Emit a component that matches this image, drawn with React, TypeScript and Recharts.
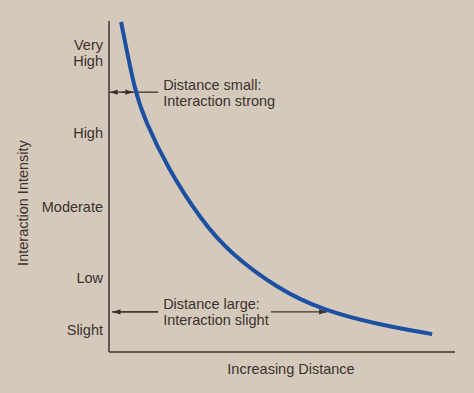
import React from 'react';
import { LineChart, Line, XAxis, YAxis, ReferenceLine } from 'recharts';

// Curve samples (distance, intensity)
const distance = [3.5, 7.5, 10.4, 16.8, 26.9, 35.0, 48.6, 61.8, 78.3, 93.4];
const intensity = [99.7, 78.5, 70.1, 55.8, 39.4, 29.9, 19.2, 12.6, 8.2, 5.4];

// Y tick labels
const tickValues = [90.3, 66.2, 43.8, 22.4, 6.5];
const tickLabels = [['Very', 'High'], ['High'], ['Moderate'], ['Low'], ['Slight']];

// Annotations
const topArrowY = 78.5;
const topArrowX = [0.2, 7.0, 14.2];
const topText = ['Distance small:', 'Interaction strong'];
const bottomArrowY = 12.1;
const bottomArrowX = [1.0, 14.2, 46.8, 63.0];
const bottomText = ['Distance large:', 'Interaction slight'];

const data = distance.map((d, i) => ({ d, v: intensity[i] }));

const BG = '#d5c9bc';
const INK = '#3a322c';
const FONT = '"Liberation Sans", Arial, Helvetica, sans-serif';
const FS = 14.5;

const arrowHead = (tx: number, ty: number, dir: number) => {
  const len = 8;
  const half = 2.6;
  return (
    <polygon
      points={`${tx},${ty} ${tx - dir * len},${ty - half} ${tx - dir * len},${ty + half}`}
      fill={INK}
    />
  );
};

const makeShape = (headStart: boolean, headEnd: boolean, text?: string[]) => (props: any) => {
  const { x1, y1, x2, y2 } = props;
  if (x1 == null) return null;
  const dir = x2 > x1 ? 1 : -1;
  return (
    <g>
      <line x1={x1} y1={y1} x2={x2} y2={y2} stroke={INK} strokeWidth={1.3} />
      {headEnd && arrowHead(x2, y2, dir)}
      {headStart && arrowHead(x1, y1, -dir)}
      {text && (
        <text x={x2 + 5} y={y2} fontFamily={FONT} fontSize={FS} fill={INK}>
          <tspan x={x2 + 5} dy={-2.5}>{text[0]}</tspan>
          <tspan x={x2 + 5} dy={16}>{text[1]}</tspan>
        </text>
      )}
    </g>
  );
};

const YTick = (props: any) => {
  const { x, y, payload } = props;
  const idx = tickValues.indexOf(payload.value);
  const lines = idx >= 0 ? tickLabels[idx] : [String(payload.value)];
  const startDy = -((lines.length - 1) * 16) / 2 + 5;
  return (
    <text x={x} y={y} textAnchor="end" fontFamily={FONT} fontSize={FS} fill={INK}>
      {lines.map((l, i) => (
        <tspan key={i} x={x} dy={i === 0 ? startDy : 16}>
          {l}
        </tspan>
      ))}
    </text>
  );
};

export default function App() {
  return (
    <div style={{ position: 'absolute', left: 0, top: 0, width: 474, height: 393, background: BG, overflow: 'hidden' }}>
      <LineChart
        width={474}
        height={393}
        data={data}
        margin={{ top: 21, right: 19, bottom: 0, left: 10 }}
      >
        <XAxis
          type="number"
          dataKey="d"
          domain={[0, 100]}
          tick={false}
          tickLine={false}
          axisLine={{ stroke: INK, strokeWidth: 1.5 }}
          height={41}
          label={{
            content: (p: any) => {
              const vb = p.viewBox;
              return (
                <text x={vb.x + vb.width / 2 + 9} y={vb.y + 22} textAnchor="middle" fontFamily={FONT} fontSize={FS} fill={INK}>
                  Increasing Distance
                </text>
              );
            },
          }}
        />
        <YAxis
          type="number"
          domain={[0, 100]}
          ticks={tickValues}
          tick={<YTick />}
          tickLine={false}
          tickMargin={0}
          width={99}
          axisLine={{ stroke: INK, strokeWidth: 1.5 }}
          label={{
            content: () => (
              <text
                x={23}
                y={203}
                transform="rotate(-90 23 203)"
                textAnchor="middle"
                dominantBaseline="central"
                fontFamily={FONT}
                fontSize={FS}
                fill={INK}
              >
                Interaction Intensity
              </text>
            ),
          }}
        />
        <ReferenceLine
          segment={[{ x: topArrowX[1], y: topArrowY }, { x: topArrowX[0], y: topArrowY }]}
          shape={makeShape(false, true)}
          ifOverflow="visible"
        />
        <ReferenceLine
          segment={[{ x: (topArrowX[0] + topArrowX[1]) / 2, y: topArrowY }, { x: topArrowX[1], y: topArrowY }]}
          shape={makeShape(false, true)}
          ifOverflow="visible"
        />
        <ReferenceLine
          segment={[{ x: topArrowX[1], y: topArrowY }, { x: topArrowX[2], y: topArrowY }]}
          shape={makeShape(false, false, topText)}
          ifOverflow="visible"
        />
        <ReferenceLine
          segment={[{ x: bottomArrowX[1], y: bottomArrowY }, { x: bottomArrowX[0], y: bottomArrowY }]}
          shape={makeShape(false, true)}
          ifOverflow="visible"
        />
        <ReferenceLine
          segment={[{ x: bottomArrowX[0], y: bottomArrowY }, { x: bottomArrowX[1], y: bottomArrowY }]}
          shape={makeShape(false, false, bottomText)}
          ifOverflow="visible"
        />
        <ReferenceLine
          segment={[{ x: bottomArrowX[2], y: bottomArrowY }, { x: bottomArrowX[3], y: bottomArrowY }]}
          shape={makeShape(false, true)}
          ifOverflow="visible"
        />
        <Line
          type="basis"
          dataKey="v"
          stroke="#1b50a2"
          strokeWidth={4}
          dot={false}
          isAnimationActive={false}
        />
      </LineChart>
    </div>
  );
}
